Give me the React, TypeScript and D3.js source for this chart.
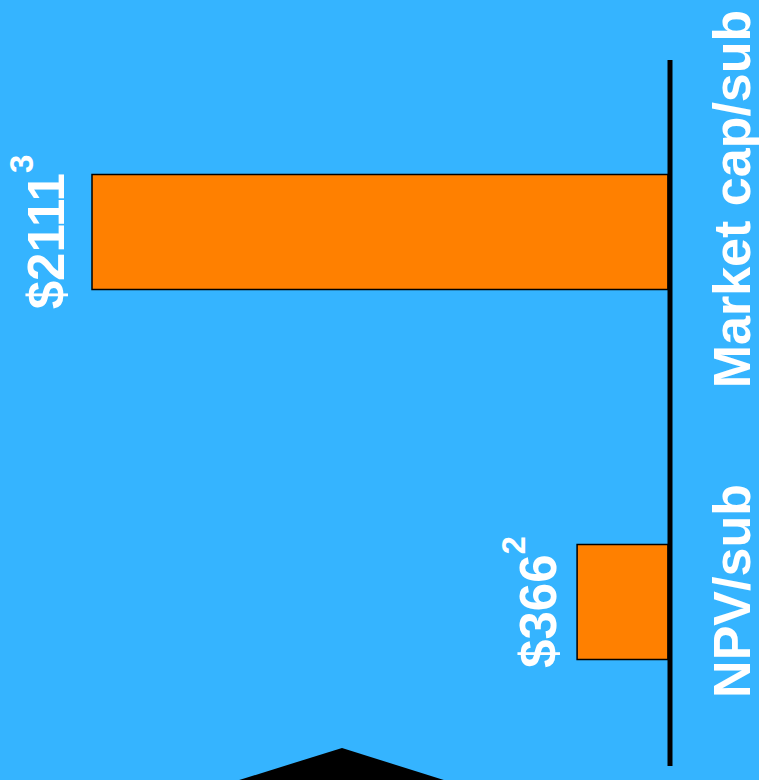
import React from "react";
import * as d3 from "d3";

const categories = ["Market cap/sub", "NPV/sub"];
const values = [2111, 366];
const valueLabels = ["$2111", "$366"];
const footnotes = ["3", "2"];

const W = 759;
const H = 780;
const FONT = "'Liberation Sans', Arial, Helvetica, sans-serif";
const BG = "#35B4FF";
const ORANGE = "#FF8000";

// layout constants (not data)
const axisX = 670;
const catLabelCenters = [199, 591];
const valueLabelGap = [28, 21];

export default function App() {
  const x = d3.scaleLinear().domain([39, 2111]).range([668, 92]);
  const y = d3.scalePoint<string>().domain(categories).range([232, 602]);
  const barH = 115;
  const base = x(39);

  return (
    <svg
      width={W}
      height={H}
      style={{ position: "fixed", left: 0, top: 0, display: "block" }}
      fontFamily={FONT}
    >
      <rect x={0} y={0} width={W} height={H} fill={BG} />
      {categories.map((c, i) => {
        const cy = y(c)!;
        const v = values[i];
        const x0 = x(v);
        return (
          <g key={c}>
            <rect
              x={x0}
              y={cy - barH / 2}
              width={base - x0}
              height={barH}
              fill={ORANGE}
              stroke="#000"
              strokeWidth={1.5}
            />
            <text
              transform={`translate(${x0 - valueLabelGap[i]},${cy}) rotate(-90)`}
              textAnchor="middle"
              fill="#fff"
              fontWeight="bold"
              fontSize={51}
            >
              {valueLabels[i]}
              <tspan fontSize={33} dy={-31}>
                {footnotes[i]}
              </tspan>
            </text>
            <text
              transform={`translate(750,${catLabelCenters[i]}) rotate(-90)`}
              textAnchor="middle"
              fill="#fff"
              fontWeight="bold"
              fontSize={52}
            >
              {c}
            </text>
          </g>
        );
      })}
      <line x1={axisX} x2={axisX} y1={60} y2={766} stroke="#000" strokeWidth={5} />
      <polygon points="236,781 342,748 447,781" fill="#000" />
    </svg>
  );
}
